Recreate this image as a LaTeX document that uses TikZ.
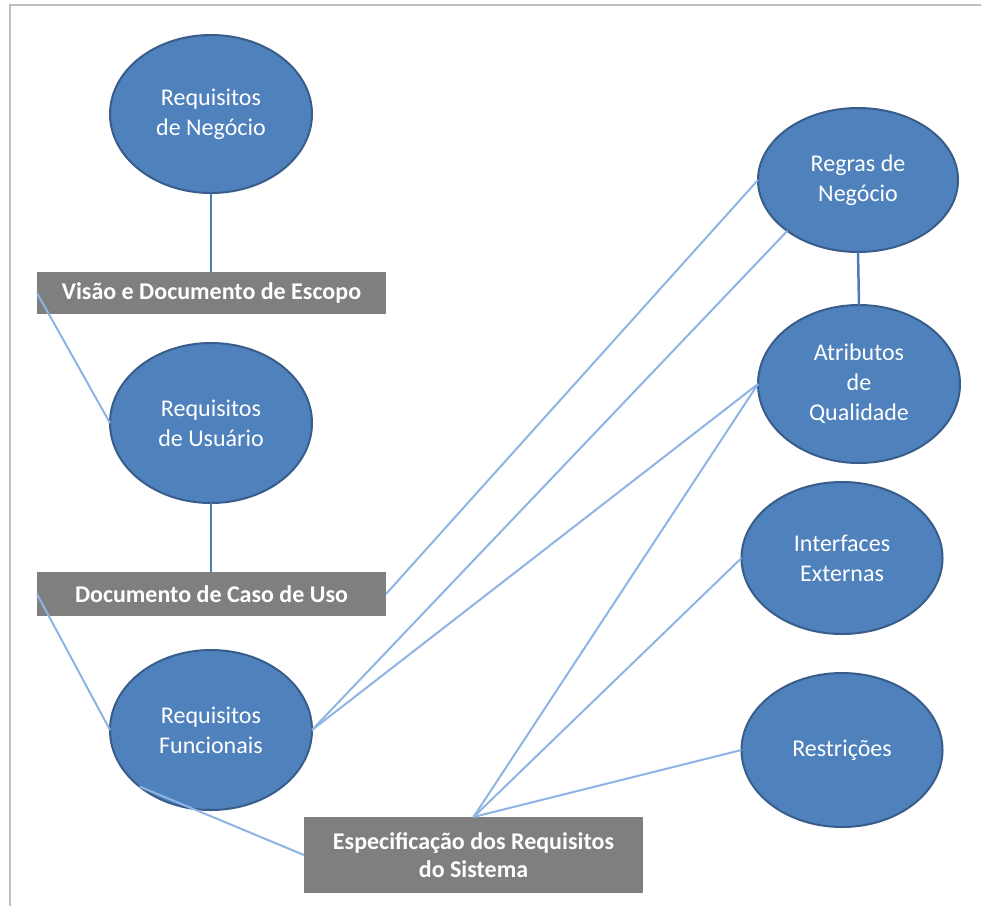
\documentclass[tikz,border=0pt]{standalone}
\usepackage{fontspec}
\setmainfont{Carlito}
\usetikzlibrary{shapes.geometric}

\definecolor{ellfill}{HTML}{4F81BD}
\definecolor{elledge}{HTML}{385D8A}
\definecolor{linklight}{HTML}{8EB4E3}
\definecolor{linkstrong}{HTML}{4A7EBB}
\definecolor{boxfill}{HTML}{7F7F7F}
\definecolor{framegray}{HTML}{C0C0C0}

\begin{document}
\begin{tikzpicture}[x=1pt,y=-1pt,
  reqnode/.style={ellipse, fill=ellfill, draw=elledge, line width=2pt,
    text=white, inner sep=0pt, outer sep=0pt, align=center,
    font=\fontsize{24}{30}\selectfont},
  docbox/.style={rectangle, fill=boxfill, text=white, inner sep=0pt,
    outer sep=0pt, align=center,
    font=\fontsize{24}{28}\selectfont\bfseries},
  softlink/.style={draw=linklight, line width=2pt},
  stronglink/.style={draw=linkstrong, line width=2.5pt}]

\useasboundingbox (0,0) rectangle (981,906);

% frame along the top and left edges
\draw[framegray, line width=2.5pt] (10,906) -- (10,5) -- (981,5);

% requirement ellipses
\node[reqnode, minimum width=202pt, minimum height=158pt] (neg) at (211,114) {Requisitos\\de Negócio};
\node[reqnode, minimum width=202pt, minimum height=160pt] (usu) at (211,423) {Requisitos\\de Usuário};
\node[reqnode, minimum width=202pt, minimum height=160pt] (fun) at (211,730) {Requisitos\\Funcionais};
\node[reqnode, minimum width=200pt, minimum height=144pt] (reg) at (858,180) {Regras de\\Negócio};
\node[reqnode, minimum width=202pt, minimum height=158pt] (atr) at (859,384) {Atributos\\de\\Qualidade};
\node[reqnode, minimum width=201pt, minimum height=152pt] (int) at (842,558) {Interfaces\\Externas};
\node[reqnode, minimum width=201pt, minimum height=154pt] (res) at (842,750) {Restrições};

% document boxes
\node[docbox, minimum width=349pt, minimum height=42pt] (visao) at (211.5,293) {Visão e Documento de Escopo};
\node[docbox, minimum width=349pt, minimum height=44pt] (caso) at (211.5,594) {Documento de Caso de Uso};
\node[docbox, minimum width=339pt, minimum height=76pt] (spec) at (473.5,855) {Especificação dos Requisitos\\do Sistema};

% connectors
\draw[stronglink] (neg.south) -- (neg.south |- visao.north);
\draw[stronglink] (usu.south) -- (usu.south |- caso.north);
\draw[stronglink] (reg.south) -- (atr.north);
\draw[softlink] (visao.west) -- (usu.west);
\draw[softlink] (caso.west) -- (fun.west);
\draw[softlink] (fun.south west) -- (spec.west);
\draw[softlink] (caso.east) -- (reg.west);
\draw[softlink] (fun.east) -- (reg.south west);
\draw[softlink] (fun.east) -- (atr.west);
\draw[softlink] (spec.north) -- (atr.west);
\draw[softlink] (spec.north) -- (int.west);
\draw[softlink] (spec.north) -- (res.west);
\end{tikzpicture}
\end{document}
